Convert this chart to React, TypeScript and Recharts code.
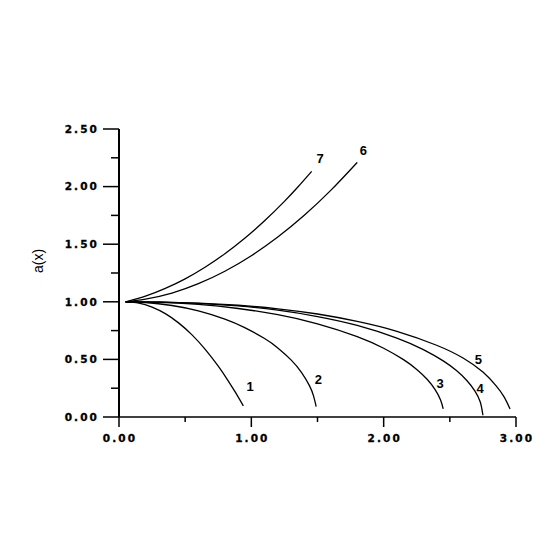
import React from 'react';
import { LineChart, Line, XAxis, YAxis, ReferenceDot } from 'recharts';

// curve samples
const x1 = [0.05, 0.15, 0.25, 0.35, 0.45, 0.55, 0.65, 0.75, 0.82, 0.88, 0.94];
const y1 = [1, 0.989, 0.954, 0.897, 0.817, 0.715, 0.589, 0.441, 0.323, 0.214, 0.096];

const x2 = [0.05, 0.2, 0.4, 0.6, 0.8, 0.95, 1.1, 1.2, 1.3, 1.38, 1.44, 1.47, 1.49];
const y2 = [1, 0.994, 0.968, 0.921, 0.85, 0.776, 0.681, 0.6, 0.496, 0.386, 0.27, 0.183, 0.09];

const x3 = [0.05, 0.3, 0.6, 0.9, 1.2, 1.5, 1.8, 2.0, 2.15, 2.25, 2.33, 2.39, 2.43, 2.45];
const y3 = [1, 0.996, 0.977, 0.942, 0.888, 0.809, 0.698, 0.597, 0.498, 0.413, 0.326, 0.236, 0.148, 0.07];

const x4 = [0.05, 0.3, 0.6, 0.9, 1.2, 1.5, 1.8, 2.1, 2.3, 2.45, 2.55, 2.63, 2.69, 2.73, 2.75];
const y4 = [1, 0.998, 0.987, 0.964, 0.927, 0.872, 0.795, 0.685, 0.585, 0.487, 0.403, 0.315, 0.225, 0.13, 0.015];

const x5 = [0.05, 0.3, 0.6, 0.9, 1.2, 1.5, 1.8, 2.1, 2.4, 2.6, 2.75, 2.85, 2.91, 2.955];
const y5 = [1, 0.998, 0.989, 0.97, 0.939, 0.894, 0.83, 0.744, 0.623, 0.512, 0.39, 0.27, 0.175, 0.07];

const x6 = [0.05, 0.2, 0.4, 0.6, 0.8, 1.0, 1.2, 1.4, 1.6, 1.8];
const y6 = [1, 1.023, 1.076, 1.157, 1.265, 1.4, 1.562, 1.751, 1.967, 2.21];

const x7 = [0.05, 0.2, 0.35, 0.5, 0.65, 0.8, 0.95, 1.1, 1.25, 1.35, 1.456];
const y7 = [1, 1.049, 1.116, 1.199, 1.3, 1.417, 1.552, 1.703, 1.872, 1.994, 2.132];

const curveNames = ['1', '2', '3', '4', '5', '6', '7'];
const labelX = [0.99, 1.506, 2.426, 2.728, 2.715, 1.846, 1.519];
const labelY = [0.263, 0.327, 0.292, 0.249, 0.495, 2.311, 2.241];

const xTicks = [0, 0.5, 1, 1.5, 2, 2.5, 3];
const yTicks = [0, 0.25, 0.5, 0.75, 1, 1.25, 1.5, 1.75, 2, 2.25, 2.5];

const toRows = (xs: number[], ys: number[]) => xs.map((x, i) => ({ x, y: ys[i] }));
const curves = [
  toRows(x1, y1),
  toRows(x2, y2),
  toRows(x3, y3),
  toRows(x4, y4),
  toRows(x5, y5),
  toRows(x6, y6),
  toRows(x7, y7),
];

const tickFont = {
  fontFamily: '"DejaVu Sans", sans-serif',
  fontWeight: 700,
  fontSize: 10.5,
  letterSpacing: 2.1,
  fill: '#000',
  stroke: '#000',
  strokeWidth: 0.3,
};

const isMajor = (v: number, step: number) => Math.abs(v / step - Math.round(v / step)) < 1e-6;

const YTick = (props: any) => {
  const { x, y, payload } = props;
  const v = payload.value;
  const major = isMajor(v, 0.5);
  return (
    <g>
      <line x1={x} x2={x - (major ? 16 : 8)} y1={y} y2={y} stroke='#000' strokeWidth={1.5} />
      {major && (
        <text x={x - 20} y={y} dy={3.8} textAnchor='end' style={tickFont}>
          {v.toFixed(2)}
        </text>
      )}
    </g>
  );
};

const XTick = (props: any) => {
  const { x, y, payload } = props;
  const v = payload.value;
  const major = isMajor(v, 1);
  return (
    <g>
      <line x1={x} x2={x} y1={y} y2={y + (major ? 10 : 5)} stroke='#000' strokeWidth={1.5} />
      {major && (
        <text x={x + 1} y={y} dy={25} textAnchor='middle' style={tickFont}>
          {v.toFixed(2)}
        </text>
      )}
    </g>
  );
};

const CurveLabel = (props: any) => {
  const { viewBox, value } = props;
  const cx = viewBox.x + viewBox.width / 2;
  const cy = viewBox.y + viewBox.height / 2;
  return (
    <text
      x={cx}
      y={cy}
      dy={4.5}
      textAnchor='middle'
      style={{ fontFamily: '"Liberation Sans", Arial, sans-serif', fontWeight: 700, fontSize: 13, fill: '#000' }}
    >
      {value}
    </text>
  );
};

export default function App() {
  return (
    <div style={{ width: 529, height: 529, background: '#fff' }}>
      <LineChart width={529} height={529} margin={{ top: 121, right: 21, bottom: 0, left: 0 }}>
        <XAxis
          type='number'
          dataKey='x'
          domain={[0, 3]}
          ticks={xTicks}
          height={120}
          tickSize={0}
          tickMargin={0}
          tickLine={false}
          axisLine={{ stroke: '#000', strokeWidth: 1.6 }}
          tick={<XTick />}
          interval={0}
        />
        <YAxis
          type='number'
          domain={[0, 2.5]}
          ticks={yTicks}
          width={111}
          tickSize={0}
          tickMargin={0}
          tickLine={false}
          axisLine={{ stroke: '#000', strokeWidth: 2 }}
          tick={<YTick />}
          interval={0}
          label={{
            value: 'a(x)',
            angle: -90,
            position: 'insideLeft',
            offset: 30,
            style: { fontFamily: '"Liberation Sans", Arial, sans-serif', fontSize: 14, fill: '#000' },
          }}
        />
        {curves.map((rows, i) => (
          <Line
            key={curveNames[i]}
            data={rows}
            dataKey='y'
            type='natural'
            stroke='#000'
            strokeWidth={1.3}
            dot={false}
            isAnimationActive={false}
          />
        ))}
        {curveNames.map((name, i) => (
          <ReferenceDot
            key={'lbl' + name}
            x={labelX[i]}
            y={labelY[i]}
            r={0}
            fill='none'
            stroke='none'
            label={<CurveLabel value={name} />}
          />
        ))}
      </LineChart>
    </div>
  );
}
